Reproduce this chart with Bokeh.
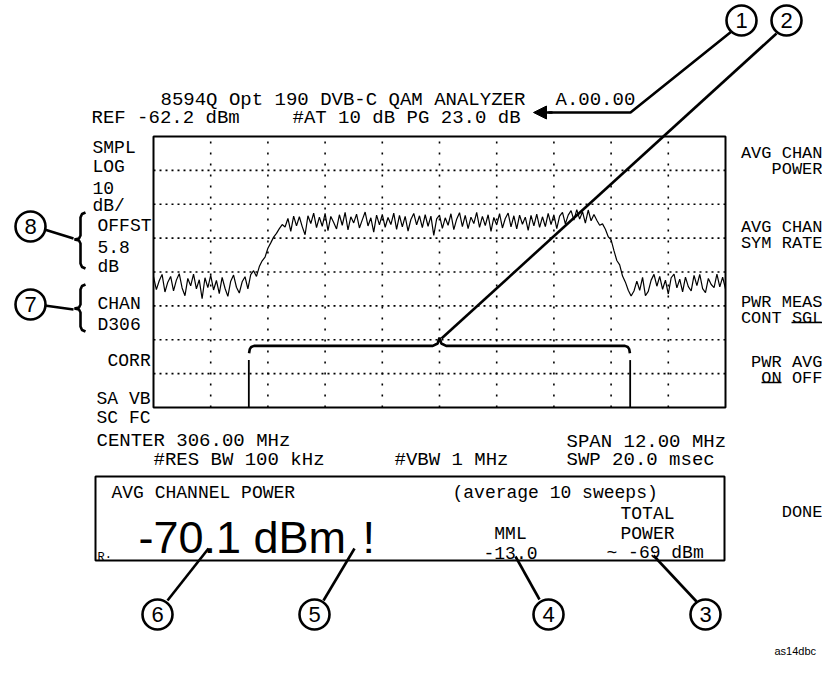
import numpy as np
from bokeh.plotting import figure
from bokeh.models import Range1d, Arrow, NormalHead
from bokeh.core.properties import value
from bokeh.embed import file_html
from bokeh.resources import INLINE

# ---------------- data ----------------
center_mhz = 306.0
span_mhz = 12.0
ref_dbm = -62.2
db_per_div = 10.0
n_xdiv = 10
n_ydiv = 8
chan_bw_mhz = 8.0

# swept trace (dBm), 300 -> 312 MHz
trace_dbm = [
    -103.6, -107.4, -104.8, -102.9, -108.1, -105.2, -103.5, -107.8, -104.6, -102.7,
    -106.9, -109.2, -104.1, -106.3, -102.8, -107.2, -104.5, -110.1, -103.9, -106.8,
    -103.2, -107.5, -104.7, -108.6, -103.8, -107.0, -109.4, -104.9, -103.1, -106.7,
    -108.4, -105.1, -103.6, -107.2, -103.0, -101.8, -103.5, -100.6, -98.9, -97.8,
    -95.2, -93.6, -91.9, -90.8, -89.4, -88.2,
    -88.9, -86.4, -90.2, -85.7, -88.6, -85.9, -88.8, -91.2, -85.6, -87.9,
    -84.8, -89.1, -86.0, -88.7, -84.9, -90.0, -85.8, -87.6, -89.5, -85.3,
    -88.4, -84.6, -89.8, -85.9, -87.7, -85.1, -89.2, -86.8, -84.5, -88.6,
    -86.2, -90.4, -85.4, -88.3, -85.2, -89.0, -86.1, -88.2, -84.8, -89.6,
    -85.5, -88.9, -85.8, -90.1, -86.7, -84.9, -88.3, -85.6, -89.1, -85.3,
    -88.7, -85.7, -91.4, -86.5, -85.4, -89.3, -86.2, -88.4, -85.0, -89.7,
    -86.6, -84.7, -88.8, -85.5, -89.4, -86.0, -87.9, -84.6, -89.0, -85.8,
    -88.5, -85.3, -90.2, -86.1, -88.3, -85.0, -89.2, -86.4, -84.8, -88.9,
    -85.6, -89.5, -85.4, -88.1, -86.0, -89.9, -85.5, -88.6, -85.1, -89.0,
    -85.9, -88.8, -84.9, -88.2, -85.3, -89.4, -85.7, -84.6, -88.0, -85.4,
    -84.1, -86.9, -83.8, -86.6, -84.4, -87.8, -83.9, -87.1, -85.2,
    -86.9, -88.4, -88.0, -89.6, -91.8, -92.7, -95.9, -98.8, -100.1, -103.4,
    -105.2, -107.6, -109.3, -107.8,
    -104.9, -107.6, -103.8, -109.2, -107.9, -104.6, -102.9, -106.4, -103.5, -107.3,
    -104.6, -108.7, -103.9, -102.8, -106.9, -104.3, -108.1, -103.7, -106.5, -107.8,
    -103.2, -106.2, -102.9, -107.1, -108.3, -104.1, -105.9, -106.8, -102.8, -106.6,
    -103.7, -107.2,
]

header_title = "8594Q Opt 190 DVB-C QAM ANALYZER"
header_rev = "A.00.00"
header_ref = "REF -62.2 dBm"
header_att = "#AT 10 dB PG 23.0 dB"
left_annot = ["SMPL", "LOG", "10", "dB/", "OFFST", "5.8", "dB", "CHAN", "D306", "CORR", "SA VB", "SC FC"]
bottom_left = ["CENTER 306.00 MHz", "#RES BW 100 kHz", "#VBW 1 MHz"]
bottom_right = ["SPAN 12.00 MHz", "SWP 20.0 msec"]
softkeys = ["AVG CHAN", "POWER", "AVG CHAN", "SYM RATE", "PWR MEAS", "CONT SGL", "PWR AVG", "ON OFF", "DONE"]
box_title = "AVG CHANNEL POWER"
box_note = "(average 10 sweeps)"
chan_power = "-70.1 dBm"
chan_flag = "!"
mml_label = ["MML", "-13.0"]
total_label = ["TOTAL", "POWER"]
total_value = "~ -69 dBm"
callouts = ["1", "2", "3", "4", "5", "6", "7", "8"]
fig_code = "as14dbc"

# ---------------- layout ----------------
W, H = 822, 658
GX0, GX1, GY0, GY1 = 153, 725, 136, 407   # graticule in picture pixels

f_start = center_mhz - span_mhz / 2
f_stop = center_mhz + span_mhz / 2
db_bot = ref_dbm - db_per_div * n_ydiv

def fmap(x):
    return f_start + (x - GX0) / (GX1 - GX0) * span_mhz

def dmap(y):
    return ref_dbm - (y - GY0) / (GY1 - GY0) * (db_per_div * n_ydiv)

p = figure(width=W, height=H, x_range=Range1d(0, W), y_range=Range1d(H, 0),
           x_axis_type=None, y_axis_type=None, toolbar_location=None, tools="",
           output_backend="svg", min_border=0, outline_line_color=None,
           background_fill_color="white", border_fill_color="white")
p.extra_x_ranges = {"freq": Range1d(fmap(0), fmap(W))}
p.extra_y_ranges = {"db": Range1d(dmap(H), dmap(0))}
p.xgrid.visible = False
p.ygrid.visible = False

FR = dict(x_range_name="freq", y_range_name="db")
MONO = value("Liberation Mono")
SANS = value("Liberation Sans")

# graticule
xdiv = span_mhz / n_xdiv
vx = [f_start + k * xdiv for k in range(1, n_xdiv)]
p.segment(x0=vx, x1=vx, y0=[db_bot] * len(vx), y1=[ref_dbm] * len(vx),
          line_color="black", line_width=1.6, line_dash="2 9", **FR)
hy = [ref_dbm - k * db_per_div for k in range(1, n_ydiv)]
p.segment(x0=[f_start] * len(hy), x1=[f_stop] * len(hy), y0=hy, y1=hy,
          line_color="black", line_width=1.6, line_dash="2 4", **FR)
p.quad(left=[f_start], right=[f_stop], top=[ref_dbm], bottom=[db_bot],
       fill_color=None, line_color="black", line_width=2, **FR)

# trace
freq = np.linspace(f_start, f_stop, len(trace_dbm))
p.line(freq, trace_dbm, line_color="black", line_width=1.2, **FR)

# channel bracket
lo = center_mhz - chan_bw_mhz / 2
hi = center_mhz + chan_bw_mhz / 2
yb = ref_dbm - 6.18 * db_per_div
rx, ry = 0.11, 1.6
bx = [lo + 0.005, lo + 0.02, lo + 0.05, lo + rx, center_mhz - 0.14, center_mhz - 0.04, center_mhz,
      center_mhz + 0.04, center_mhz + 0.14, hi - rx, hi - 0.05, hi - 0.02, hi - 0.005]
by = [yb - ry - 0.6, yb - ry * 0.6, yb - ry * 0.2, yb, yb, yb + 0.7, yb + 2.4,
      yb + 0.7, yb, yb, yb - ry * 0.2, yb - ry * 0.6, yb - ry - 0.6]
p.line(bx, by, line_color="black", line_width=2.6, **FR)
p.segment(x0=[lo, hi], x1=[lo, hi], y0=[db_bot, db_bot], y1=[yb - 4.2, yb - 4.2],
          line_color="black", line_width=1.8, **FR)

# ---------------- texts ----------------
def txt(xs, ys, ts, align="left", font=MONO, size="18px"):
    p.text(x=xs, y=ys, text=ts, text_align=align, text_baseline="alphabetic",
           text_font=font, text_font_size=size, text_color="black")

txt([160, 555], [99, 99], [header_title, header_rev], size="19px")
txt([91, 292], [117, 117], [header_ref, header_att], size="19px")
txt([92, 92, 92, 92, 97, 97, 97, 97, 97, 107, 96, 96],
    [147, 166, 187, 205, 225, 246, 266, 303, 324, 360, 398, 417], left_annot)
txt([96, 153, 394], [440, 459, 459], bottom_left, size="19px")
txt([566, 566], [441, 459], bottom_right, size="19px")
txt([822] * 9, [153, 169, 227, 243, 302, 318, 362, 378, 512], softkeys, align="right", size="17px")
p.segment(x0=[791, 761], x1=[822, 781], y0=[322, 382], y1=[322, 382], line_color="black", line_width=1.5)

# measurement box
p.quad(left=[95], right=[724], top=[476], bottom=[560], fill_color=None,
       line_color="black", line_width=2)
txt([111, 452], [492, 492], [box_title, box_note])
txt([138, 362], [537, 537], [chan_power, chan_flag], font=SANS, size="45px")
txt([510, 510], [533, 552], mml_label, align="center")
txt([647, 647], [513, 533], total_label, align="center")
txt([606], [552], [total_value])
txt([97], [557], ["R\u00b7"], size="12px")
txt([774], [650], [fig_code], font=SANS, size="11px")

# callout leaders
p.line([731, 630, 548], [31, 112, 112], line_color="black", line_width=2.6)
p.add_layout(Arrow(end=NormalHead(size=13, fill_color="black", line_color="black"),
                   x_start=552, y_start=112, x_end=533, y_end=112,
                   line_color="black", line_width=2.6))
p.line([441, 776], [338, 33], line_color="black", line_width=2.6)
p.line([44, 73], [229, 238], line_color="black", line_width=2.6)
p.line([44, 73], [305, 309], line_color="black", line_width=2.6)
p.line([208, 167], [548, 600], line_color="black", line_width=2.6)
p.line([354, 323], [548, 600], line_color="black", line_width=2.6)
p.line([515, 539], [556, 599], line_color="black", line_width=2.6)
p.line([653, 696], [555, 601], line_color="black", line_width=2.6)

def brace(xs, yt, yb_, ym):
    bxs = [xs + 5, xs + 1.5, xs, xs, xs - 1.5, xs - 6, xs - 1.5, xs, xs, xs + 1.5, xs + 5]
    bys = [yt, yt + 1.5, yt + 5, ym - 4, ym - 1, ym, ym + 1, ym + 4, yb_ - 5, yb_ - 1.5, yb_]
    p.line(bxs, bys, line_color="black", line_width=2.6)

brace(80, 212, 268, 239)
brace(80, 284, 331, 308)

cx = [741, 786, 705, 548, 314, 157, 30, 30]
cy = [20, 20, 614, 614, 614, 614, 304, 226]
p.circle(x=cx, y=cy, radius=15, fill_color="white", line_color="black", line_width=2.6)
p.text(x=cx, y=cy, text=callouts, text_align="center", text_baseline="middle",
       text_font=SANS, text_font_size="22px", text_color="black")

open("out.html", "w").write(file_html(p, INLINE))
